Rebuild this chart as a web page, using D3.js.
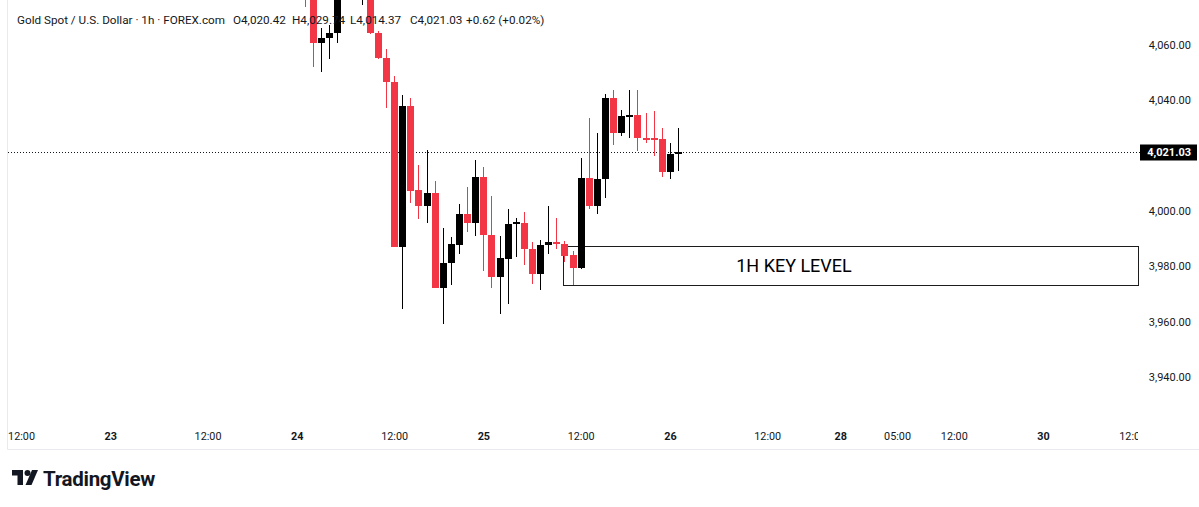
<!DOCTYPE html>
<html>
<head>
<meta charset="utf-8">
<script src="https://cdn.jsdelivr.net/npm/d3@7"></script>
<style>
  html, body { margin: 0; padding: 0; background: #ffffff; }
  svg { display: block; font-family: Roboto, "Noto Sans", sans-serif; }
</style>
</head>
<body>
<div id="chart"></div>
<script>
/* CONSTANTS AND GLOBALS */
const width = 1199;
const height = 507;
const plotLeft = 8;
const plotRight = 1140;
const plotBottom = 425;

const upColor = "#000000";
const downColor = "#F23645";
const textColor = "#131722";

/* DATA (1h bars, index 0 = first bar under the legend) */
const firstIndex = -1;
const candleOpen = [4092, 4085, 4060.7, 4062.2, 4064.3, 4082, 4088, 4080, 4086, 4064.3,
  4055.3, 4046.3, 3987.0, 4037.9, 4007.6, 4001.8, 4006.5, 3972.2, 3981.2, 3987.7,
  3998.9, 3995.7, 4012.3, 3991.3, 3976.1, 3982.7, 3995.3, 3995.7, 3986.3, 3977.2,
  3987.7, 3988.8, 3988.1, 3984.1, 3979.4, 4011.9, 4001.8, 4011.6, 4040.8, 4028.2,
  4034.3, 4034.7, 4026.4, 4026.2, 4026.0, 4014.1, 4020.42];
const candleHigh = [4096, 4090, 4066.1, 4066.9, 4086, 4092, 4095, 4092, 4090, 4064.7,
  4058.2, 4048.6, 4041.9, 4040.8, 4016.6, 4022.0, 4010.8, 3993.9, 3990.6, 4002.5,
  4008.7, 4018.4, 4015.9, 4005.4, 3991.0, 4000.7, 3997.5, 3999.6, 3988.8, 3989.5,
  4001.8, 3997.5, 3989.2, 3985.5, 4019.0, 4033.6, 4028.2, 4042.3, 4043.7, 4036.5,
  4043.7, 4043.4, 4035.1, 4036.1, 4030.0, 4024.6, 4029.74];
const candleLow = [4073.4, 4052.0, 4050.2, 4054.9, 4060.7, 4078, 4080, 4074.1, 4063.8, 4054.6,
  4037.2, 3986.8, 3964.6, 4002.9, 3997.1, 3995.7, 3972.0, 3959.2, 3973.3, 3984.5,
  3992.4, 3991.0, 3978.3, 3972.2, 3962.8, 3966.4, 3983.4, 3980.5, 3973.6, 3971.4,
  3984.5, 3986.3, 3981.6, 3973.3, 3979.0, 4000.7, 3998.9, 4004.7, 4023.9, 4027.1,
  4026.4, 4021.7, 4024.6, 4019.9, 4012.3, 4011.6, 4014.37];
const candleClose = [4080, 4060.7, 4062.2, 4064.3, 4082, 4088, 4084, 4088, 4064.3, 4055.3,
  4046.3, 3987.0, 4037.9, 4007.2, 4001.8, 4006.5, 3972.2, 3981.2, 3988.1, 3998.9,
  3995.7, 4012.3, 3991.3, 3976.1, 3983.0, 3995.3, 3996.0, 3986.3, 3977.2, 3987.7,
  3988.8, 3988.1, 3983.7, 3979.4, 4011.9, 4001.8, 4011.6, 4040.8, 4028.2, 4034.3,
  4034.7, 4026.4, 4026.0, 4025.8, 4014.1, 4020.42, 4021.03];

// 4,020.00 is hidden behind the last price label, so it is not listed
const priceTicks = [3940, 3960, 3980, 4000, 4040, 4060];
const lastPrice = 4021.03;

const timeTickIndex = [-36, -25, -13, -2, 10, 21, 33, 44, 56, 65, 72, 79, 90, 101];
const timeTickLabels = ["12:00", "23", "12:00", "24", "12:00", "25", "12:00", "26", "12:00", "28", "05:00", "12:00", "30", "12:00"];

const keyLevelTop = 3987.35;
const keyLevelBottom = 3973.26;
const keyLevelStart = 30.8;
const keyLevelLabelAt = 59.3;
const keyLevelLabel = "1H KEY LEVEL";

const legendParts = ["Gold Spot / U.S. Dollar \u00b7 1h \u00b7 FOREX.com", "O4,020.42", "H4,029.74", "L4,014.37", "C4,021.03", "+0.62 (+0.02%)"];

const candles = candleOpen.map((o, i) => ({
  i: firstIndex + i, o: o, h: candleHigh[i], l: candleLow[i], c: candleClose[i]
}));

/* SCALES */
const xScale = d3.scaleLinear().domain([0, 45]).range([313, 678]);
const yScale = d3.scaleLinear().domain([3940, 4060]).range([377, 44.5]);
const fmt = d3.format(",.2f");

const svg = d3.select("#chart")
  .append("svg")
  .attr("width", width)
  .attr("height", height);

const defs = svg.append("defs");
defs.append("clipPath")
  .attr("id", "plotClip")
  .append("rect")
  .attr("x", plotLeft).attr("y", 0)
  .attr("width", plotRight - plotLeft).attr("height", plotBottom);

defs.append("clipPath")
  .attr("id", "timeClip")
  .append("rect")
  .attr("x", 0).attr("y", plotBottom)
  .attr("width", plotRight - 2).attr("height", 24);

// frame
svg.append("line")
  .attr("x1", plotLeft - 0.5).attr("x2", plotLeft - 0.5)
  .attr("y1", 0).attr("y2", 449.5)
  .attr("stroke", "#e8eaef");
svg.append("line")
  .attr("x1", plotLeft - 0.5).attr("x2", width)
  .attr("y1", 449.5).attr("y2", 449.5)
  .attr("stroke", "#e8eaef");

const plot = svg.append("g").attr("clip-path", "url(#plotClip)");

// KEY LEVEL BOX
plot.append("rect")
  .attr("x", Math.round(xScale(keyLevelStart)) + 0.5)
  .attr("y", Math.round(yScale(keyLevelTop)) + 0.5)
  .attr("width", plotRight - 2 - Math.round(xScale(keyLevelStart)))
  .attr("height", Math.round(yScale(keyLevelBottom)) - Math.round(yScale(keyLevelTop)))
  .attr("fill", "none")
  .attr("stroke", "#1c1c1c")
  .attr("stroke-width", 1);

plot.append("text")
  .attr("x", xScale(keyLevelLabelAt))
  .attr("y", (yScale(keyLevelTop) + yScale(keyLevelBottom)) / 2)
  .attr("dy", "0.36em")
  .attr("text-anchor", "middle")
  .attr("fill", "#000")
  .style("font-size", "18px")
  .text(keyLevelLabel);

// LAST PRICE LINE
plot.append("line")
  .attr("x1", plotLeft).attr("x2", plotRight)
  .attr("y1", Math.round(yScale(lastPrice)) + 0.5)
  .attr("y2", Math.round(yScale(lastPrice)) + 0.5)
  .attr("stroke", "#131722")
  .attr("stroke-dasharray", "1,2");

// CANDLES
const bars = plot.selectAll(".candle")
  .data(candles)
  .join("g")
  .attr("class", "candle")
  .attr("shape-rendering", "crispEdges");

bars.append("line")
  .attr("x1", d => Math.round(xScale(d.i)) + 0.5)
  .attr("x2", d => Math.round(xScale(d.i)) + 0.5)
  .attr("y1", d => yScale(d.h))
  .attr("y2", d => yScale(d.l))
  .attr("stroke", d => d.c >= d.o ? upColor : downColor)
  .attr("stroke-width", 1);

bars.append("rect")
  .attr("x", d => Math.round(xScale(d.i)) - 3)
  .attr("y", d => Math.round(yScale(Math.max(d.o, d.c))))
  .attr("width", 7)
  .attr("height", d => Math.max(2, Math.round(yScale(Math.min(d.o, d.c))) - Math.round(yScale(Math.max(d.o, d.c)))))
  .attr("fill", d => d.c >= d.o ? upColor : downColor);

// LEGEND
const legendX = [17, 233, 292, 350, 410, 466];
const legend = svg.append("text")
  .attr("y", 24)
  .attr("fill", textColor)
  .style("font-size", "11.7px");
legend.selectAll("tspan")
  .data(legendParts)
  .join("tspan")
  .attr("x", (d, i) => legendX[i])
  .text(d => d);

// PRICE AXIS
const yAxis = svg.append("g")
  .attr("transform", "translate(" + plotRight + ",0)")
  .call(d3.axisRight(yScale).tickValues(priceTicks).tickFormat(fmt).tickSize(0).tickPadding(51));
yAxis.select(".domain").remove();
yAxis.selectAll("text")
  .attr("text-anchor", "end")
  .attr("fill", textColor)
  .style("font-size", "11px")
  .style("font-family", "Roboto, sans-serif");

// last price label
const lastY = Math.round(yScale(lastPrice)) + 0.5;
svg.append("rect")
  .attr("x", plotRight)
  .attr("y", lastY - 8)
  .attr("width", 57)
  .attr("height", 16)
  .attr("fill", "#000");
svg.append("text")
  .attr("x", plotRight + 51)
  .attr("y", lastY)
  .attr("dy", "0.36em")
  .attr("text-anchor", "end")
  .attr("fill", "#fff")
  .style("font-size", "11px")
  .style("font-weight", "bold")
  .text(fmt(lastPrice));

// TIME AXIS
const timeAxis = svg.append("g")
  .attr("clip-path", "url(#timeClip)")
  .append("g")
  .attr("transform", "translate(0," + 430 + ")")
  .call(d3.axisBottom(xScale).tickValues(timeTickIndex)
    .tickFormat((d, i) => timeTickLabels[i]).tickSize(0).tickPadding(2));
timeAxis.select(".domain").remove();
timeAxis.selectAll("text")
  .attr("fill", textColor)
  .style("font-size", "10.8px")
  .style("font-family", "Roboto, sans-serif")
  .style("font-weight", (d, i) => timeTickLabels[i].includes(":") ? "normal" : "bold");

// TRADINGVIEW LOGO
const logo = svg.append("g").attr("transform", "translate(12,470)").attr("fill", "#131722");
logo.append("path").attr("d", "M0 0 H11 V15 H5.5 V5.5 H0 Z");
logo.append("circle").attr("cx", 15.5).attr("cy", 3).attr("r", 3);
logo.append("path").attr("d", "M20 0 H26 L19.5 15 H13.5 Z");
svg.append("text")
  .attr("x", 43)
  .attr("y", 486)
  .attr("fill", "#131722")
  .style("font-size", "20.5px")
  .style("font-weight", "bold")
  .style("letter-spacing", "-0.3px")
  .text("TradingView");
</script>
</body>
</html>
